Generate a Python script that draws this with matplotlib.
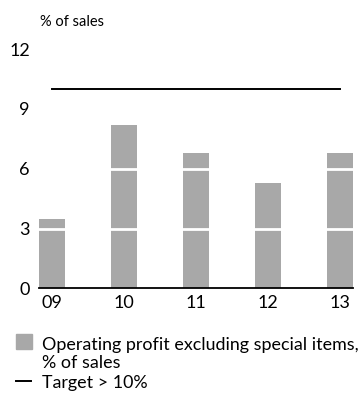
import matplotlib
matplotlib.use('Agg')
import matplotlib.pyplot as plt
from matplotlib.patches import Rectangle
from matplotlib.lines import Line2D

plt.rcParams['font.family'] = ['Lato', 'DejaVu Sans']

years = ['09', '10', '11', '12', '13']
op_profit = [3.5, 8.2, 6.8, 5.3, 6.8]
target = 10
y_ticks = [0, 3, 6, 9, 12]

BAR_GREY = '#a8a8a8'
W, H = 363, 393

fig = plt.figure(figsize=(W / 100, H / 100), dpi=100)
ax = fig.add_axes([39 / W, 1 - 288.3 / H, 314 / W, 239.2 / H])

x = range(len(years))
ax.bar(x, op_profit, width=0.36, color=BAR_GREY, zorder=1)
# white breaks through the bars at each gridline
for t in y_ticks[1:]:
    ax.axhline(t, color='white', lw=2, zorder=2)
ax.plot([0, len(years) - 1], [target, target], color='black', lw=1.4, zorder=3)

ax.set_xlim(-0.18, len(years) - 1 + 0.18)
ax.set_ylim(0, 12)
ax.set_xticks(list(x))
ax.set_xticklabels(years)
ax.set_yticks(y_ticks)
ax.tick_params(length=0, labelsize=13)
ax.tick_params(axis='y', pad=6.5)
ax.tick_params(axis='x', pad=5)
for s in ['top', 'right', 'left']:
    ax.spines[s].set_visible(False)
ax.spines['bottom'].set_linewidth(1.3)
ax.spines['bottom'].set_zorder(4)

fig.text(40 / W, 1 - 26 / H, '% of sales', fontsize=10.5, va='baseline', ha='left')

# legend drawn by hand
fig.add_artist(Rectangle((16 / W, 1 - 349 / H), 16 / W, 15 / H,
                         transform=fig.transFigure, color=BAR_GREY))
fig.text(42 / W, 1 - 350 / H, 'Operating profit excluding special items,',
         fontsize=12.9, va='baseline', ha='left')
fig.text(42 / W, 1 - 368 / H, '% of sales', fontsize=12.9, va='baseline', ha='left')
fig.add_artist(Line2D([16 / W, 31 / W], [1 - 381 / H, 1 - 381 / H],
                      transform=fig.transFigure, color='black', lw=1.4))
fig.text(42 / W, 1 - 388 / H, 'Target > 10%', fontsize=12.9, va='baseline', ha='left')

fig.savefig('out.png', dpi=100)
